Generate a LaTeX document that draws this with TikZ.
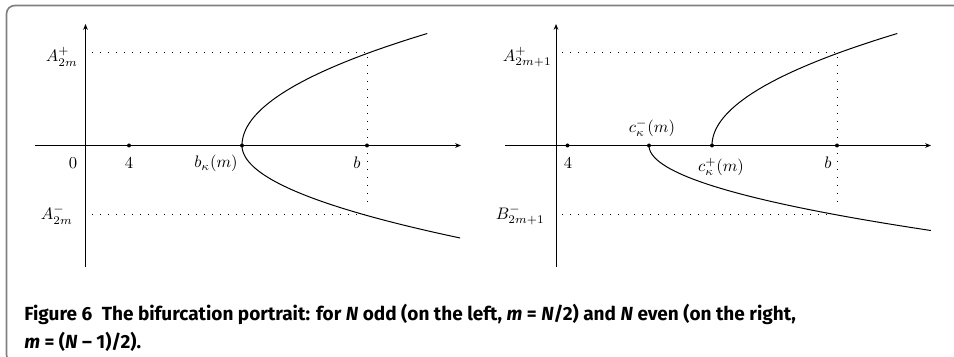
\documentclass[tikz,border=0pt]{standalone}
\usepackage{amsmath,amssymb}
\usepackage{fontspec}
\newfontfamily\capfont{Fira Sans}
\usetikzlibrary{arrows.meta, positioning}

\begin{document}
\begin{tikzpicture}[
    x=0.6pt, y=-0.6pt,
    axis/.style={-{Stealth[length=3.5pt, width=2.8pt]}, line width=0.6pt},
    branch/.style={line width=0.6pt},
    guide/.style={line width=0.6pt, dash pattern=on 0.6pt off 4.2pt},
    dot/.style={circle, fill, inner sep=0pt, minimum size=2.4pt},
    tick/.style={inner sep=0pt},
    frame/.style={draw=black!50, line width=1pt, rounded corners=5pt}
]
\useasboundingbox (0,0) rectangle (954,357);
\draw[frame] (6.5,5.5) rectangle (990,363);

% left portrait: N odd
\coordinate (xa1) at (35,145.5);
\coordinate (xb1) at (461,145.5);
\coordinate (ya1) at (85.5,267);
\coordinate (yb1) at (85.5,24);
\draw[axis] (xa1) -- (xb1);
\draw[axis] (ya1) -- (yb1);
\node[dot] (four1) at (129,145.5) {};
\node[dot] (bk) at (242,145.5) {};
\node[dot] (bb1) at (367,145.5) {};
\coordinate (Ap1) at (92,53);
\coordinate (Am1) at (92,215);
\coordinate (bp1) at (367,57);
\coordinate (bm1) at (367,208);
\draw[guide] (Ap1) -- (bp1 |- Ap1);
\draw[guide] (Am1) -- (bm1 |- Am1);
\draw[guide] (bp1) -- (bm1);
\draw[branch] plot[domain=0:112, samples=60, variable=\t] ({242+0.01477*\t*\t},{145.5-\t});
\draw[branch] plot[domain=0:92.5, samples=60, variable=\t] ({242+0.0255*\t*\t},{145.5+\t});
\node[tick] (zero1) at (73,163) {$0$};
\node[tick] (lfour1) at (129,163) {$4$};
\node[tick] (lbk) at (216,163.5) {$b_\kappa(m)$};
\node[tick] (lb1) at (357,163) {$b$};
\node[tick, anchor=east] (lAp1) at (78,57) {$A_{2m}^{+}$};
\node[tick, anchor=east] (lAm1) at (73,215) {$A_{2m}^{-}$};

% right portrait: N even
\coordinate (xa2) at (505,145.5);
\coordinate (xb2) at (931,145.5);
\coordinate (ya2) at (556,267);
\coordinate (yb2) at (556,24);
\draw[axis] (xa2) -- (xb2);
\draw[axis] (ya2) -- (yb2);
\node[dot] (four2) at (567.5,145.5) {};
\node[dot] (cm) at (649,145.5) {};
\node[dot] (cp) at (712,145.5) {};
\node[dot] (bb2) at (837,145.5) {};
\coordinate (Ap2) at (562,53);
\coordinate (Bm2) at (562,215);
\coordinate (bp2) at (837,57);
\coordinate (bm2) at (837,208);
\draw[guide] (Ap2) -- (bp2 |- Ap2);
\draw[guide] (Bm2) -- (bm2 |- Bm2);
\draw[guide] (bp2) -- (bm2);
\draw[branch] plot[domain=0:112, samples=60, variable=\t] ({712+0.01477*\t*\t},{145.5-\t});
\draw[branch] plot[domain=0:85, samples=60, variable=\t] ({649+0.039*\t*\t},{145.5+\t});
\node[tick] (lfour2) at (568,163) {$4$};
\node[tick] (lcm) at (652,128) {$c_\kappa^{-}(m)$};
\node[tick] (lcp) at (721,167) {$c_\kappa^{+}(m)$};
\node[tick] (lb2) at (828,163) {$b$};
\node[tick, anchor=east] (lAp2) at (552,57) {$A_{2m+1}^{+}$};
\node[tick, anchor=east] (lBm2) at (545,215) {$B_{2m+1}^{-}$};

% caption
\node[anchor=base west, inner sep=0pt, align=left,
      font=\capfont\bfseries\fontsize{11.4}{16.8}\selectfont] (cap) at (24,349)
  {Figure 6\enspace The bifurcation portrait: for \textit{N} odd (on the left, \textit{m} = \textit{N}/2) and \textit{N} even (on the right,\\
   \textit{m} = (\textit{N} – 1)/2).};
\end{tikzpicture}
\end{document}
